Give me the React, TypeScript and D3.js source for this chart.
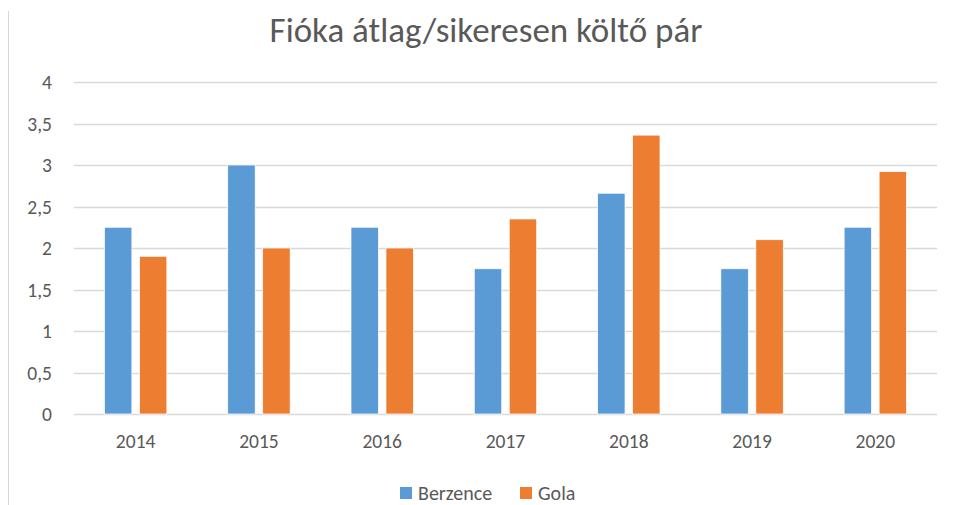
import { useEffect, useRef } from 'react';
import * as d3 from 'd3';

const years = ['2014', '2015', '2016', '2017', '2018', '2019', '2020'];
const berzence = [2.25, 3, 2.25, 1.75, 2.66, 1.75, 2.25];
const gola = [1.9, 2, 2, 2.35, 3.36, 2.1, 2.92];
const seriesNames = ['Berzence', 'Gola'];
const colors = ['#5B9BD5', '#ED7D31'];
const yTicks = [0, 0.5, 1, 1.5, 2, 2.5, 3, 3.5, 4];

const W = 955;
const H = 505;
const FONT = 'Carlito, Calibri, Lato, sans-serif';

const App = () => {
    const svgRef = useRef(null);

    useEffect(() => {
        const svg = d3.select(svgRef.current);
        svg.selectAll('*').remove();

        const left = 74, right = 937, top = 82, bottom = 414;

        const x = d3.scaleBand().domain(years).range([left, right]).paddingInner(0).paddingOuter(0);
        const y = d3.scaleLinear().domain([0, 4]).range([bottom, top]);
        // two bars per year, a small gap between them
        const inner = d3.scaleBand().domain(seriesNames).range([0, x.bandwidth()]).paddingInner(0.214).paddingOuter(0.87);

        // outer frame line on the left
        svg.append('line')
            .attr('x1', 8.5).attr('x2', 8.5).attr('y1', 11).attr('y2', H)
            .attr('stroke', '#D9D9D9').attr('stroke-width', 1);

        // title
        svg.append('text')
            .attr('x', 486).attr('y', 42)
            .attr('text-anchor', 'middle')
            .style('font-family', FONT)
            .style('font-size', '35px')
            .attr('fill', '#595959')
            .text('Fióka átlag/sikeresen költő pár');

        // gridlines
        svg.append('g')
            .selectAll('line')
            .data(yTicks)
            .enter()
            .append('line')
            .attr('x1', left).attr('x2', right)
            .attr('y1', d => Math.round(y(d)) + 0.5)
            .attr('y2', d => Math.round(y(d)) + 0.5)
            .attr('stroke', '#D9D9D9')
            .attr('stroke-width', 1.5);

        // y labels
        svg.append('g')
            .selectAll('text')
            .data(yTicks)
            .enter()
            .append('text')
            .attr('x', 52)
            .attr('y', d => y(d) + 7)
            .attr('text-anchor', 'end')
            .style('font-family', FONT)
            .style('font-size', '19.5px')
            .attr('fill', '#595959')
            .text(d => String(d).replace('.', ','));

        // x labels
        svg.append('g')
            .selectAll('text')
            .data(years)
            .enter()
            .append('text')
            .attr('x', d => x(d) + x.bandwidth() / 2)
            .attr('y', 448)
            .attr('text-anchor', 'middle')
            .style('font-family', FONT)
            .style('font-size', '19.5px')
            .attr('fill', '#595959')
            .text(d => d);

        // bars
        const data = [berzence, gola];
        data.forEach((values, s) => {
            svg.append('g')
                .selectAll('rect')
                .data(values)
                .enter()
                .append('rect')
                .attr('x', (d, i) => x(years[i]) + inner(seriesNames[s]))
                .attr('y', d => y(d))
                .attr('width', inner.bandwidth())
                .attr('height', d => y(0) - y(d))
                .attr('fill', colors[s])
                .attr('stroke', '#fff')
                .attr('stroke-width', 0.75);
        });

        // legend
        const legendX = [400, 520];
        seriesNames.forEach((name, i) => {
            const g = svg.append('g').attr('transform', `translate(${legendX[i]}, 487)`);
            g.append('rect').attr('width', 12).attr('height', 12).attr('fill', colors[i]);
            g.append('text')
                .attr('x', 18).attr('y', 12.5)
                .style('font-family', FONT)
                .style('font-size', '20px')
                .attr('fill', '#595959')
                .text(name);
        });
    }, []);

    return (
        <svg ref={svgRef} width={W} height={H}
            style={{ position: 'absolute', left: 0, top: 0, background: '#fff' }}></svg>
    );
};

export default App;
